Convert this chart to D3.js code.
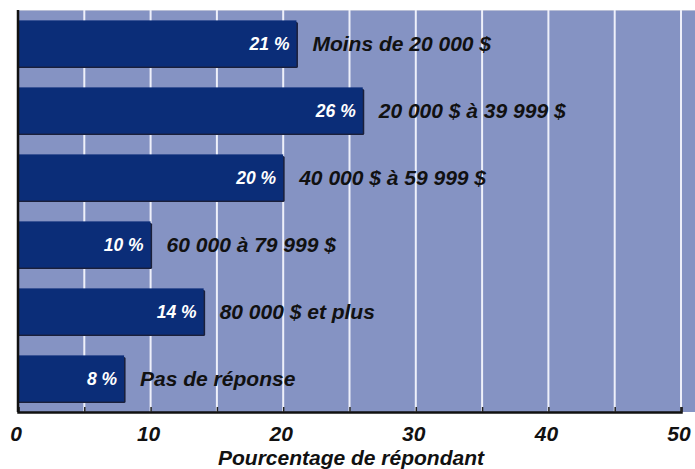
<!DOCTYPE html>
<html>
<head>
<meta charset="utf-8">
<script src="https://cdn.jsdelivr.net/npm/d3@7"></script>
<style>
  body { margin: 0; background: #fff; }
  text { font-family: "Liberation Sans", Arial, sans-serif; font-weight: bold; font-style: italic; }
</style>
</head>
<body>
<div id="main"></div>
<script>
var categories = ["Moins de 20 000 $", "20 000 $ à 39 999 $", "40 000 $ à 59 999 $",
                  "60 000 à 79 999 $", "80 000 $ et plus", "Pas de réponse"];
var values = [21, 26, 20, 10, 14, 8];
var xTicks = [0, 10, 20, 30, 40, 50];
var gridTicks = [5, 10, 15, 20, 25, 30, 35, 40, 45, 50];
var axisTitle = "Pourcentage de répondant";

var margin = {top: 10, right: 0, bottom: 57, left: 18},
    width = 695 - margin.left - margin.right,
    height = 469 - margin.top - margin.bottom;

var svg = d3.select("#main")
  .append("svg")
    .attr("width", 695)
    .attr("height", 469)
  .append("g")
    .attr("transform", "translate(" + margin.left + "," + margin.top + ")");

var x = d3.scaleLinear()
  .domain([0, 50])
  .range([0, 663]);

var y = d3.scaleBand()
  .domain(categories)
  .range([0, height])
  .paddingInner(0.31)
  .paddingOuter(0.155);

// plot background
svg.append("rect")
  .attr("x", 0).attr("y", 0)
  .attr("width", width).attr("height", height)
  .attr("fill", "#8593c3");

svg.append("line")
  .attr("x1", 0).attr("x2", width)
  .attr("y1", 0.5).attr("y2", 0.5)
  .attr("stroke", "#b9bfd6");

// vertical grid lines
svg.append("g")
  .selectAll("line")
  .data(gridTicks)
  .enter()
  .append("line")
    .attr("x1", function(d) { return x(d); })
    .attr("x2", function(d) { return x(d); })
    .attr("y1", 0)
    .attr("y2", height)
    .attr("stroke", "#eef0fa")
    .attr("stroke-width", 2);

// bar shadows
svg.append("g")
  .selectAll("rect")
  .data(values)
  .enter()
  .append("rect")
    .attr("x", 0)
    .attr("y", function(d, i) { return y(categories[i]) + 1.5; })
    .attr("width", function(d) { return x(d) + 1.5; })
    .attr("height", y.bandwidth())
    .attr("rx", 1.5)
    .attr("fill", "#1a1f3a");

// bars
svg.append("g")
  .selectAll("rect")
  .data(values)
  .enter()
  .append("rect")
    .attr("x", 0)
    .attr("y", function(d, i) { return y(categories[i]); })
    .attr("width", function(d) { return x(d); })
    .attr("height", y.bandwidth())
    .attr("fill", "#0b2d78");

// value labels
svg.append("g")
  .selectAll("text")
  .data(values)
  .enter()
  .append("text")
    .attr("x", function(d) { return x(d) - 7; })
    .attr("y", function(d, i) { return y(categories[i]) + y.bandwidth() / 2; })
    .attr("dy", "0.36em")
    .attr("text-anchor", "end")
    .attr("fill", "#fff")
    .style("font-size", "17.5px")
    .text(function(d) { return d + " %"; });

// category labels
svg.append("g")
  .selectAll("text")
  .data(values)
  .enter()
  .append("text")
    .attr("x", function(d) { return x(d) + 16; })
    .attr("y", function(d, i) { return y(categories[i]) + y.bandwidth() / 2; })
    .attr("dy", "0.36em")
    .attr("fill", "#111")
    .style("font-size", "21px")
    .text(function(d, i) { return categories[i]; });

// x axis
var xAxis = svg.append("g")
  .attr("transform", "translate(0," + height + ")")
  .call(d3.axisBottom(x).tickValues(gridTicks).tickSize(-5).tickFormat(""));
xAxis.select(".domain").attr("stroke", "#111").attr("stroke-width", 2.5);
xAxis.selectAll(".tick line").attr("stroke", "#222").attr("stroke-width", 1.5);

svg.append("g")
  .selectAll("text")
  .data(xTicks)
  .enter()
  .append("text")
    .attr("x", function(d) { return x(d) - 2; })
    .attr("y", height + 29)
    .attr("text-anchor", "middle")
    .attr("fill", "#111")
    .style("font-size", "21px")
    .text(function(d) { return d; });

// y axis line
svg.append("line")
  .attr("x1", 0).attr("x2", 0)
  .attr("y1", 0).attr("y2", height)
  .attr("stroke", "#111")
  .attr("stroke-width", 2.5);

svg.append("text")
  .attr("x", 333)
  .attr("y", height + 53)
  .attr("text-anchor", "middle")
  .attr("fill", "#111")
  .style("font-size", "21px")
  .text(axisTitle);
</script>
</body>
</html>
